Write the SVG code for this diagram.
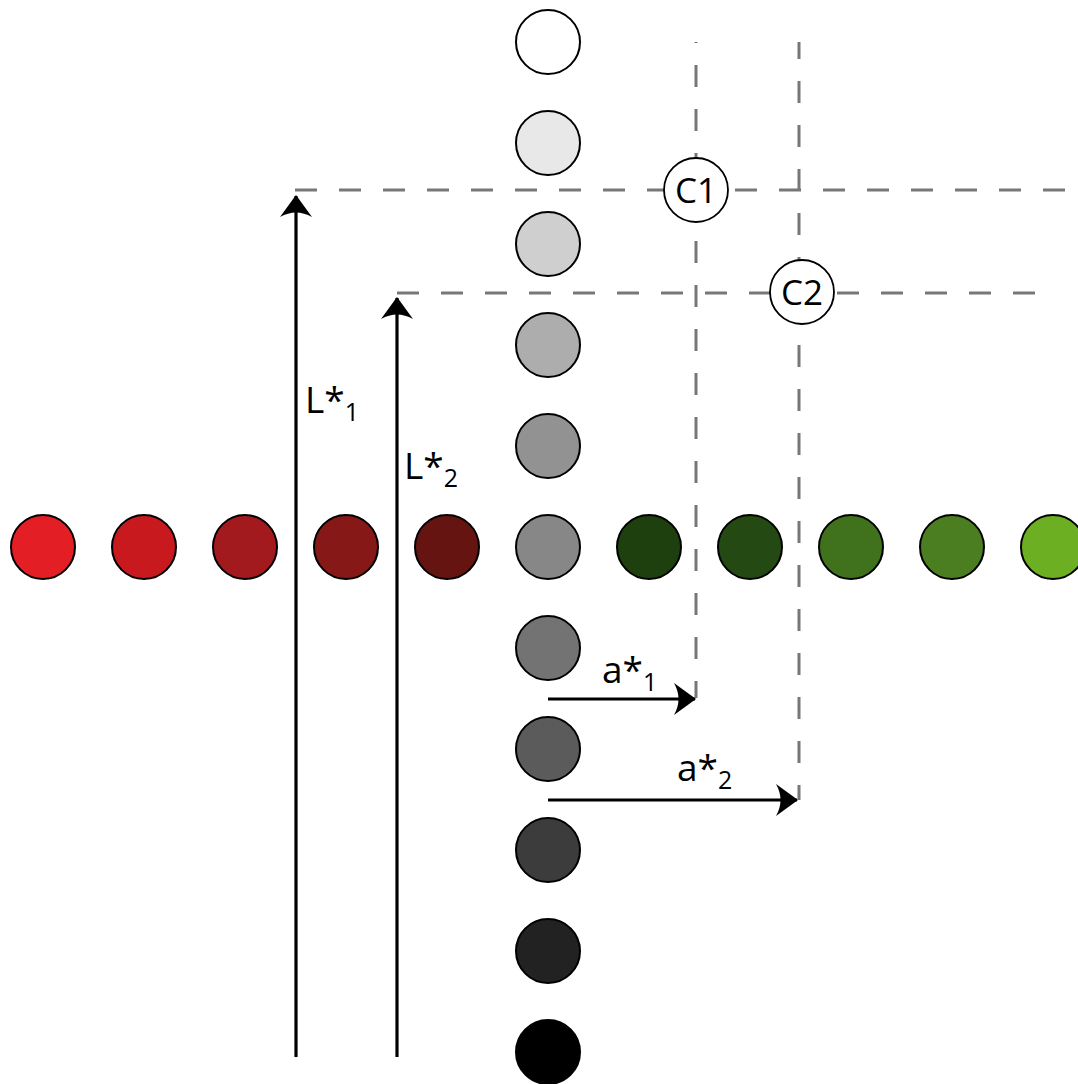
<svg xmlns="http://www.w3.org/2000/svg" width="1078" height="1084" viewBox="0 0 1078 1084">
<style>
.dot{stroke:#000;stroke-width:2}
.dash{stroke:#777;stroke-width:3;stroke-dasharray:22 22;fill:none}
.arr{stroke:#000;stroke-width:3.2;fill:none}
.lbl{font-family:"Open Sans",sans-serif;font-size:37px;fill:#000}
.sub{font-size:25px}
.cl{font-family:"Open Sans",sans-serif;font-size:35px;fill:#000;text-anchor:middle}
</style>
<defs>
<marker id="ah" viewBox="0 0 22 32" refX="21" refY="16" markerWidth="22" markerHeight="32" markerUnits="userSpaceOnUse" orient="auto">
<path d="M0 0 L22 16 L0 32 Q9 16 0 0 Z" fill="#000"/>
</marker>
</defs>
<g id="connectors">
<line class="dash" x1="295" y1="190" x2="1078" y2="190"/>
<line class="dash" x1="397" y1="293" x2="1056" y2="293"/>
<line class="dash" x1="696" y1="42" x2="696" y2="698" stroke-dashoffset="21"/>
<line class="dash" x1="799" y1="42" x2="799" y2="800" stroke-dashoffset="5"/>
<line class="arr" x1="296" y1="1057" x2="296" y2="196" marker-end="url(#ah)"/>
<line class="arr" x1="397" y1="1057" x2="397" y2="298" marker-end="url(#ah)"/>
<line class="arr" x1="548" y1="699" x2="695" y2="699" marker-end="url(#ah)"/>
<line class="arr" x1="548" y1="800" x2="797" y2="800" marker-end="url(#ah)"/>
</g>
<g id="column">
<circle class="dot" cx="548" cy="42" r="32" fill="#FFFFFF"/>
<circle class="dot" cx="548" cy="143" r="32" fill="#E8E8E8"/>
<circle class="dot" cx="548" cy="244" r="32" fill="#CFCFCF"/>
<circle class="dot" cx="548" cy="345" r="32" fill="#ADADAD"/>
<circle class="dot" cx="548" cy="446" r="32" fill="#929292"/>
<circle class="dot" cx="548" cy="648" r="32" fill="#737373"/>
<circle class="dot" cx="548" cy="749" r="32" fill="#5B5B5B"/>
<circle class="dot" cx="548" cy="850" r="32" fill="#3C3C3C"/>
<circle class="dot" cx="548" cy="951" r="32" fill="#222222"/>
<circle class="dot" cx="548" cy="1052" r="32" fill="#000000"/>
</g>
<g id="row">
<circle class="dot" cx="43" cy="547" r="32" fill="#E31E25"/>
<circle class="dot" cx="144" cy="547" r="32" fill="#C8191F"/>
<circle class="dot" cx="245" cy="547" r="32" fill="#A31A1E"/>
<circle class="dot" cx="346" cy="547" r="32" fill="#871818"/>
<circle class="dot" cx="447" cy="547" r="32" fill="#651412"/>
<circle class="dot" cx="548" cy="547" r="32" fill="#878787"/>
<circle class="dot" cx="649" cy="547" r="32" fill="#1E3F0E"/>
<circle class="dot" cx="750" cy="547" r="32" fill="#254912"/>
<circle class="dot" cx="851" cy="547" r="32" fill="#40721D"/>
<circle class="dot" cx="952" cy="547" r="32" fill="#4B7E21"/>
<circle class="dot" cx="1053" cy="547" r="32" fill="#6DAF23"/>
</g>
<g id="C1">
<circle cx="696" cy="190" r="32" fill="#fff" stroke="#000" stroke-width="1.8"/>
<text class="cl" x="696" y="203">C1</text>
</g>
<g id="C2">
<circle cx="802" cy="292" r="32" fill="#fff" stroke="#000" stroke-width="1.8"/>
<text class="cl" x="802" y="305">C2</text>
</g>
<g id="labels">
<text class="lbl" x="305" y="413">L*<tspan class="sub" dy="8">1</tspan></text>
<text class="lbl" x="404" y="479">L*<tspan class="sub" dy="8">2</tspan></text>
<text class="lbl" x="602" y="683">a*<tspan class="sub" dy="8">1</tspan></text>
<text class="lbl" x="677" y="781">a*<tspan class="sub" dy="8">2</tspan></text>
</g>
</svg>
